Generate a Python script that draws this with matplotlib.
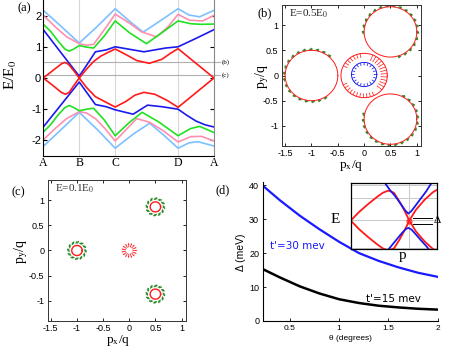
import numpy as np
import matplotlib
matplotlib.use("Agg")
import matplotlib.pyplot as plt

plt.rcParams['mathtext.fontset'] = 'stix'
SERIF = 'Liberation Serif'
SANS = 'Liberation Sans'

# ---------------- panel (a): bands along A-B-C-D-A ----------------
path_pos = [0, 1, 2, 3.75, 4.75]
path_lab = ['A', 'B', 'C', 'D', 'A']
cut_E = [0.5, 0.1]
cut_lab = ['(b)', '(c)']

red1_x = [0, 0.3, 0.5, 0.6, 0.7, 0.85, 1.0, 1.2, 1.4, 1.6, 1.8, 2.0, 2.3, 2.6, 2.95, 3.3, 3.55, 3.75, 4.25, 4.75]
red1_E = [0, 0.27, 0.45, 0.5, 0.44, 0.23, 0.0, 0.28, 0.53, 0.7, 0.82, 0.93, 0.75, 0.56, 0.47, 0.6, 0.8, 0.94, 0.47, 0]
red2_x = [0, 0.3, 0.5, 0.62, 0.72, 0.85, 1.0, 1.2, 1.45, 1.7, 2.0, 2.3, 2.55, 2.8, 3.1, 3.45, 3.75, 4.25, 4.75]
red2_E = [0, -0.27, -0.46, -0.52, -0.46, -0.24, 0.0, -0.3, -0.6, -0.75, -0.93, -0.75, -0.55, -0.46, -0.52, -0.72, -0.94, -0.47, 0]
blue1_x = [0, 0.5, 1.0, 1.2, 1.45, 1.75, 2.0, 2.4, 2.8, 3.0, 3.4, 3.75, 4.25, 4.75]
blue1_E = [1.55, 0.8, 0.06, 0.4, 0.84, 0.9, 1.0, 0.92, 0.84, 0.88, 0.96, 1.0, 1.27, 1.55]
blue2_x = [0, 0.5, 1.0, 1.2, 1.45, 1.75, 2.0, 2.5, 2.9, 3.3, 3.75, 4.0, 4.25, 4.5, 4.75]
blue2_E = [-1.57, -0.85, -0.13, -0.45, -0.85, -0.92, -1.02, -1.16, -0.87, -0.92, -1.0, -1.2, -1.38, -1.5, -1.57]
green1_x = [0, 0.2, 0.4, 0.6, 0.72, 0.85, 1.0, 1.2, 1.4, 1.7, 2.0, 2.4, 2.87, 3.3, 3.75, 4.1, 4.4, 4.75]
green1_E = [1.72, 1.5, 1.2, 0.93, 0.86, 0.93, 1.04, 0.99, 0.96, 1.35, 1.83, 1.45, 1.1, 1.45, 1.83, 1.74, 1.72, 1.73]
green2_x = [0, 0.2, 0.4, 0.6, 0.72, 0.85, 1.0, 1.2, 1.4, 1.7, 2.0, 2.4, 2.75, 3.2, 3.75, 4.1, 4.35, 4.75]
green2_E = [-1.73, -1.5, -1.2, -0.95, -0.88, -0.95, -1.05, -1.0, -0.97, -1.35, -1.85, -1.42, -1.1, -1.4, -1.85, -1.62, -1.55, -1.75]
pink1_x = [0, 0.35, 0.65, 1.0, 1.2, 1.4, 1.7, 2.0, 2.41, 2.73, 3.15, 3.47, 3.75, 4.07, 4.44, 4.75]
pink1_E = [2.01, 1.62, 1.32, 1.1, 1.05, 1.08, 1.55, 2.05, 1.75, 1.48, 1.32, 1.64, 2.04, 1.85, 1.83, 2.01]
pink2_x = [0, 0.35, 0.65, 1.0, 1.2, 1.45, 1.7, 2.0, 2.35, 2.6, 2.96, 3.35, 3.75, 4.1, 4.4, 4.75]
pink2_E = [-1.98, -1.6, -1.3, -1.08, -1.12, -1.3, -1.6, -2.02, -1.6, -1.3, -1.42, -1.7, -2.05, -1.88, -1.87, -2.02]
cyan1_x = [0, 0.5, 1.0, 1.5, 2.0, 2.4, 2.78, 3.25, 3.75, 4.05, 4.35, 4.75]
cyan1_E = [2.17, 1.65, 1.12, 1.65, 2.22, 1.82, 1.47, 1.83, 2.22, 2.02, 1.96, 2.17]
cyan2_x = [0, 0.5, 1.0, 1.5, 2.0, 2.5, 2.96, 3.35, 3.75, 4.05, 4.3, 4.75]
cyan2_E = [-2.19, -1.65, -1.1, -1.65, -2.25, -1.8, -1.45, -1.83, -2.25, -2.08, -2.04, -2.18]

C_RED, C_BLUE, C_GREEN, C_PINK, C_CYAN = '#ff1a1a', '#1a1aee', '#22e022', '#ff8fb0', '#7cc0ff'

# ---------------- panels (b), (c): constant-energy contours ----------------
valley_x = [-1.0, 0.5, 0.5]
valley_y = [0.0, 0.866, -0.866]
lobe_r_b = 0.5
inner_r_b = 0.44
tooth_ranges_b = [(100, 155, 0.09), (-40, 75, 0.13), (205, 300, 0.09)]
blue_c = (0.0, 0.02)
blue_r = 0.24
lobe_r_c = 0.1
center_r_c = 0.16

# ---------------- panel (d): gap vs twist angle ----------------
theta = [0.23, 0.4, 0.6, 0.8, 1.0, 1.2, 1.4, 1.6, 1.8, 2.0]
gap_t30 = [39.7, 35.5, 31.0, 27.0, 23.3, 20.0, 17.7, 15.8, 14.2, 13.0]
gap_t15 = [15.2, 12.8, 10.2, 8.1, 6.4, 5.3, 4.5, 4.0, 3.6, 3.35]

# inset band sketch
ins_red_x = [0, 0.1, 0.2, 0.3, 0.37, 0.435, 0.5, 0.56, 0.62, 0.677, 0.75, 0.85, 0.95, 1.0]
ins_red_E = [0, 0.28, 0.52, 0.74, 0.88, 0.95, 0.88, 0.62, 0.32, 0, -0.33, -0.65, -0.9, -0.98]
ins_blue1_x = [0.38, 0.45, 0.52, 0.58, 0.63, 0.665, 0.70, 0.75, 0.81, 0.87, 0.94]
ins_blue1_E = [1.25, 0.98, 0.75, 0.52, 0.32, 0.22, 0.3, 0.48, 0.7, 0.92, 1.22]
ins_blue2_x = [0.41, 0.47, 0.53, 0.59, 0.635, 0.665, 0.70, 0.75, 0.81, 0.87, 0.92]
ins_blue2_E = [-1.0, -0.8, -0.6, -0.4, -0.27, -0.23, -0.28, -0.43, -0.62, -0.8, -0.97]

W, H = 463, 351
fig = plt.figure(figsize=(W / 100, H / 100), dpi=100)


def box(l, t, r, b):
    return [l / W, 1 - b / H, (r - l) / W, (b - t) / H]


# ======== (a) ========
axa = fig.add_axes(box(43.3, 0, 214, 156))
for xx in path_pos[1:4]:
    axa.axvline(xx, color='#d8d8d8', lw=0.8, zorder=0)
for e, lab in zip(cut_E, cut_lab):
    axa.plot([0, 4.93], [e, e], color='#b0b0b0', lw=0.8, clip_on=False, zorder=0)
    axa.text(4.97, e, lab, fontsize=5, family=SERIF, va='center', ha='left')
bands = [(cyan1_x, cyan1_E, C_CYAN), (cyan2_x, cyan2_E, C_CYAN),
         (pink1_x, pink1_E, C_PINK), (pink2_x, pink2_E, C_PINK),
         (green1_x, green1_E, C_GREEN), (green2_x, green2_E, C_GREEN),
         (blue1_x, blue1_E, C_BLUE), (blue2_x, blue2_E, C_BLUE),
         (red1_x, red1_E, C_RED), (red2_x, red2_E, C_RED)]
for bx, be, c in bands:
    axa.plot(bx, be, color=c, lw=1.2)
axa.set_xlim(0, 4.75)
axa.set_ylim(-2.5, 2.5)
axa.set_xticks(path_pos)
axa.set_xticklabels(path_lab, family=SERIF, fontsize=8.5)
axa.set_yticks([-2, -1, 0, 1, 2])
axa.set_yticklabels(['-2', '-1', '0', '1', '2'], family=SANS, fontsize=8)
axa.tick_params(axis='y', direction='in', length=3, right=True, pad=1.5)
axa.tick_params(axis='x', direction='in', length=0, pad=1)
axa.spines['top'].set_visible(False)
axa.spines['right'].set_color('#888888')
fig.text(11 / W, 1 - 75 / H, 'E/E$_0$', rotation=90, family=SERIF, fontsize=11, ha='center', va='center')
fig.text(18 / W, 1 - 8 / H, '(a)', family=SERIF, fontsize=9, ha='left', va='center')


def contour_axes(rect):
    ax = fig.add_axes(rect)
    ax.set_xlim(-1.56, 1.08)
    ax.set_ylim(-1.4, 1.4)
    ax.set_xticks([-1.5, -1, -0.5, 0, 0.5, 1])
    ax.set_xticklabels(['-1.5', '-1', '-0.5', '0', '0.5', '1'], family=SANS, fontsize=6.5)
    ax.set_yticks([-1, -0.5, 0, 0.5, 1])
    ax.set_yticklabels(['-1', '-0.5', '0', '0.5', '1'], family=SANS, fontsize=6.5)
    ax.tick_params(axis='y', direction='in', length=2, left=True, right=True, pad=2.5, width=0.6)
    ax.tick_params(axis='x', direction='in', length=2, top=True, bottom=True, pad=2, width=0.6)
    for s in ax.spines.values():
        s.set_color('#333333')
        s.set_linewidth(0.7)
    return ax


def quiv(ax, x, y, u, v, color, width=0.005, head=2.2):
    ax.quiver(x, y, u, v, angles='xy', scale_units='xy', scale=1, color=color,
              width=width, headwidth=head, headlength=head, headaxislength=head * 0.85, pivot='middle')


GREEN_D = '#2a8a2a'

# ======== (b) ========
axb = contour_axes(box(282, 5, 421, 146))
t = np.linspace(0, 2 * np.pi, 200)
for cx, cy in zip(valley_x, valley_y):
    axb.plot(cx + lobe_r_b * np.cos(t), cy + lobe_r_b * np.sin(t), color=C_RED, lw=0.7)
    phi = np.degrees(np.arctan2(cy, cx))
    ang = np.radians(np.arange(phi - 130, phi + 131, 14))
    rr = lobe_r_b + 0.02
    quiv(axb, cx + rr * np.cos(ang), cy + rr * np.sin(ang), -0.075 * np.sin(ang), 0.075 * np.cos(ang), GREEN_D, 0.014, 1.8)
axb.plot(inner_r_b * np.cos(t), inner_r_b * np.sin(t), color=C_RED, lw=0.7)
for a0, a1, ln in tooth_ranges_b:
    ang = np.radians(np.arange(a0, a1 + 1, 9))
    r0 = inner_r_b - ln / 2
    quiv(axb, r0 * np.cos(ang), r0 * np.sin(ang), -ln * np.cos(ang), -ln * np.sin(ang), C_RED, 0.005, 2.0)
axb.plot(blue_c[0] + blue_r * np.cos(t), blue_c[1] + blue_r * np.sin(t), color=C_BLUE, lw=0.7)
ang = np.radians(np.arange(0, 360, 18))
rb = blue_r - 0.035
quiv(axb, blue_c[0] + rb * np.cos(ang), blue_c[1] + rb * np.sin(ang), -0.06 * np.cos(ang), -0.06 * np.sin(ang), C_BLUE, 0.005, 2.0)
axb.text(-1.42, 1.22, 'E=0.5E$_0$', family=SERIF, fontsize=8, va='center', ha='left', color='#222222')
fig.text(262 / W, 1 - 76 / H, 'p$_\\mathrm{y}$/q', rotation=90, family=SERIF, fontsize=10, ha='center', va='center')
fig.text(351 / W, 1 - 166 / H, 'p$_\\mathrm{x}$/q', family=SERIF, fontsize=9.5, ha='center', va='center')
fig.text(258 / W, 1 - 13 / H, '(b)', family=SERIF, fontsize=9, ha='left', va='center')

# ======== (c) ========
axc = contour_axes(box(47.7, 180, 185.7, 321))
for cx, cy in zip(valley_x, valley_y):
    axc.plot(cx + lobe_r_c * np.cos(t), cy + lobe_r_c * np.sin(t), color=C_RED, lw=1.0)
    ang = np.radians(np.arange(0, 360, 30))
    rr = lobe_r_c + 0.06
    quiv(axc, cx + rr * np.cos(ang), cy + rr * np.sin(ang), -0.085 * np.sin(ang + 0.5), 0.085 * np.cos(ang + 0.5), GREEN_D, 0.011, 2.0)
ang = np.radians(np.arange(0, 360, 24))
rc = center_r_c - 0.05
quiv(axc, rc * np.cos(ang), rc * np.sin(ang), 0.09 * np.cos(ang), 0.09 * np.sin(ang), C_RED, 0.006, 2.2)
axc.text(-1.42, 1.22, 'E=0.1E$_0$', family=SERIF, fontsize=8, va='center', ha='left', color='#333333')
fig.text(21 / W, 1 - 251 / H, 'p$_\\mathrm{y}$/q', rotation=90, family=SERIF, fontsize=10, ha='center', va='center')
fig.text(118 / W, 1 - 340 / H, 'p$_\\mathrm{x}$/q', family=SERIF, fontsize=9.5, ha='center', va='center')
fig.text(12 / W, 1 - 192 / H, '(c)', family=SERIF, fontsize=9, ha='left', va='center')

# ======== (d) ========
axd = fig.add_axes(box(263.3, 181.7, 437.7, 321))
axd.plot(theta, gap_t30, color='#1a1aff', lw=1.6)
axd.plot(theta, gap_t15, color='black', lw=1.8)
axd.set_xlim(0.23, 2.0)
axd.set_ylim(0, 41)
axd.set_xticks([0.5, 1, 1.5, 2])
axd.set_xticklabels(['0.5', '1', '1.5', '2'], family=SANS, fontsize=6)
axd.set_yticks([0, 10, 20, 30, 40])
axd.set_yticklabels(['0', '10', '20', '30', '40'], family=SANS, fontsize=6.5)
axd.tick_params(direction='in', length=2, pad=3, width=0.6)
axd.spines['top'].set_visible(False)
axd.spines['right'].set_visible(False)
axd.text(0.30, 22.2, "t'=30 mev", color='#1a1aff', family='DejaVu Sans', fontsize=7.5, va='center', ha='left')
axd.text(1.27, 6.6, "t'=15 mev", color='black', family='DejaVu Sans', fontsize=7.5, va='center', ha='left')
fig.text(241 / W, 1 - 252 / H, '\u0394 (meV)', rotation=90, family=SANS, fontsize=7.5, ha='center', va='center')
fig.text(350 / W, 1 - 339 / H, '\u03b8 (degrees)', family=SANS, fontsize=6, ha='center', va='center')
fig.text(216 / W, 1 - 190 / H, '(d)', family=SERIF, fontsize=9, ha='left', va='center')

axi = fig.add_axes(box(350.7, 183, 437.3, 249))
for yy in [1.12, 0.72, 0.03, -0.86]:
    axi.axhline(yy, color='#c8c8c8', lw=0.7, zorder=0)
axi.axvline(0.677, color='#c8c8c8', lw=0.7, zorder=0)
axi.plot(ins_red_x, ins_red_E, color=C_RED, lw=1.3)
axi.plot(ins_red_x, [-e for e in ins_red_E], color=C_RED, lw=1.3)
axi.plot(ins_blue1_x, ins_blue1_E, color=C_BLUE, lw=1.3)
axi.plot(ins_blue2_x, ins_blue2_E, color=C_BLUE, lw=1.3)
axi.plot([0.677], [0], 'o', mfc='none', mec=C_RED, ms=3.5, mew=0.8)
axi.plot([0.715, 0.935], [0.084, 0.084], color='black', lw=0.7, clip_on=False)
axi.plot([0.715, 0.935], [-0.095, -0.095], color='black', lw=0.7, clip_on=False)
axi.text(0.955, 0.0, '\u0394', family=SERIF, fontsize=8, va='center', ha='left', clip_on=False)
axi.set_xlim(0, 1)
axi.set_ylim(-0.9, 1.19)
axi.set_xticks([])
axi.set_yticks([])
for s in axi.spines.values():
    s.set_linewidth(0.9)
fig.text(335 / W, 1 - 220 / H, 'E', family=SERIF, fontsize=11, ha='center', va='center')
fig.text(403 / W, 1 - 256 / H, 'p', family=SERIF, fontsize=11, ha='center', va='center')

fig.savefig('out.png', dpi=100)
